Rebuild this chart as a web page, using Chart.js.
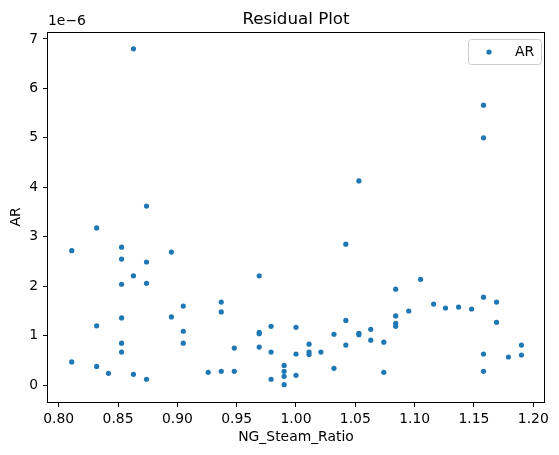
<!DOCTYPE html>
<html>
<head>
  <title>Residual Plot</title>
  <meta charset="utf-8">
  <style>
    html, body { margin: 0; padding: 0; background: #fff; }
    canvas { display: block; }
  </style>
</head>
<body>
  <script src="https://cdn.jsdelivr.net/npm/chart.js"></script>
  <canvas id="residualChart" width="559" height="455"></canvas>
<script>
    // Residuals of AR (in units of 1e-6) against NG_Steam_Ratio
    const ngSteamRatio = [
        0.811, 0.811,
        0.832, 0.832, 0.832,
        0.842,
        0.853, 0.853, 0.853, 0.853, 0.853, 0.853,
        0.863, 0.863, 0.863,
        0.874, 0.874, 0.874, 0.874,
        0.895, 0.895,
        0.905, 0.905, 0.905,
        0.926,
        0.937, 0.937, 0.937,
        0.948, 0.948,
        0.969, 0.969, 0.969, 0.969,
        0.979, 0.979, 0.979,
        0.990, 0.990, 0.990, 0.990,
        1.000, 1.000, 1.000,
        1.011, 1.011, 1.011,
        1.021,
        1.032, 1.032,
        1.042, 1.042, 1.042,
        1.053, 1.053, 1.053,
        1.063, 1.063,
        1.074, 1.074,
        1.084, 1.084, 1.084, 1.084,
        1.095,
        1.105,
        1.116,
        1.126,
        1.137,
        1.148,
        1.158, 1.158, 1.158, 1.158, 1.158,
        1.169, 1.169,
        1.179,
        1.190, 1.190
    ];
    const arResidual = [
        2.72, 0.47,
        3.18, 1.20, 0.38,
        0.24,
        2.79, 2.55, 2.04, 1.36, 0.85, 0.67,
        6.80, 2.21, 0.22,
        3.62, 2.49, 2.06, 0.12,
        2.69, 1.38,
        1.60, 1.09, 0.85,
        0.26,
        1.68, 1.48, 0.28,
        0.75, 0.28,
        2.21, 1.07, 1.04, 0.77,
        1.19, 0.67, 0.12,
        0.40, 0.28, 0.18, 0.01,
        1.17, 0.63, 0.20,
        0.83, 0.67, 0.62,
        0.67,
        1.03, 0.34,
        2.85, 1.31, 0.81,
        4.13, 1.05, 1.02,
        1.13, 0.91,
        0.87, 0.26,
        1.94, 1.40, 1.25, 1.19,
        1.50,
        2.14,
        1.64,
        1.56,
        1.58,
        1.54,
        5.66, 5.00, 1.78, 0.63, 0.28,
        1.68, 1.27,
        0.57,
        0.81, 0.61
    ];
    const xTicks = [0.80, 0.85, 0.90, 0.95, 1.00, 1.05, 1.10, 1.15, 1.20];
    const yTicks = [0, 1, 2, 3, 4, 5, 6, 7];
    const seriesName = 'AR';
    const offsetLabel = '1e\u22126';

    const blue = '#1f77b4';
    const font = 'DejaVu Sans';
    Chart.defaults.font.family = font;
    Chart.defaults.color = '#000';

    // frame, title, offset text and the legend box drawn like matplotlib
    const mplDecor = {
        id: 'mplDecor',
        afterDraw(chart) {
            const ctx = chart.ctx;
            const a = chart.chartArea;
            ctx.save();
            ctx.strokeStyle = '#000';
            ctx.lineWidth = 1;
            ctx.strokeRect(Math.round(a.left) - 0.5, Math.round(a.top) + 0.5,
                Math.round(a.right - a.left) + 1, Math.round(a.bottom - a.top));

            ctx.fillStyle = '#000';
            ctx.textBaseline = 'alphabetic';
            ctx.font = '16.7px "' + font + '"';
            ctx.textAlign = 'center';
            ctx.fillText('Residual Plot', (a.left + a.right) / 2, a.top - 8);

            ctx.font = '13.9px "' + font + '"';
            ctx.textAlign = 'left';
            ctx.fillText(offsetLabel, a.left, a.top - 7);

            // legend
            const lx = a.right - 76, ly = a.top + 7, lw = 73, lh = 25;
            ctx.beginPath();
            ctx.roundRect(lx + 0.5, ly + 0.5, lw, lh, 3);
            ctx.fillStyle = 'rgba(255,255,255,0.8)';
            ctx.fill();
            ctx.strokeStyle = '#cccccc';
            ctx.stroke();
            ctx.beginPath();
            ctx.arc(lx + 21, ly + lh / 2 + 0.5, 2.6, 0, Math.PI * 2);
            ctx.fillStyle = blue;
            ctx.fill();
            ctx.fillStyle = '#000';
            ctx.textBaseline = 'middle';
            ctx.fillText(seriesName, lx + 47, ly + lh / 2 + 1);
            ctx.restore();
        }
    };

    const points = ngSteamRatio.map((x, i) => ({ x: x, y: arResidual[i] }));

    new Chart(document.getElementById('residualChart'), {
        type: 'scatter',
        data: {
            datasets: [{
                label: seriesName,
                data: points,
                backgroundColor: blue,
                borderWidth: 0,
                pointRadius: 2.6,
                pointHoverRadius: 2.6
            }]
        },
        options: {
            responsive: false,
            animation: false,
            layout: { padding: { top: 32, right: 15, left: 0, bottom: 0 } },
            plugins: {
                legend: { display: false },
                title: { display: false },
                tooltip: { enabled: false }
            },
            scales: {
                x: {
                    type: 'linear',
                    min: 0.791,
                    max: 1.209,
                    afterBuildTicks: scale => { scale.ticks = xTicks.map(v => ({ value: v })); },
                    afterFit: scale => { scale.height = 53; },
                    border: { display: false },
                    grid: { drawOnChartArea: false, color: '#000', tickLength: 5 },
                    ticks: {
                        padding: 4,
                        autoSkip: false,
                        maxRotation: 0,
                        font: { size: 13.9 },
                        callback: v => v.toFixed(2)
                    },
                    title: {
                        display: true,
                        text: 'NG_Steam_Ratio',
                        font: { size: 13.9 },
                        padding: { top: 0, bottom: 9 }
                    }
                },
                y: {
                    type: 'linear',
                    min: -0.34,
                    max: 7.14,
                    afterBuildTicks: scale => { scale.ticks = yTicks.map(v => ({ value: v })); },
                    afterFit: scale => { scale.width = 48; },
                    border: { display: false },
                    grid: { drawOnChartArea: false, color: '#000', tickLength: 5 },
                    ticks: {
                        padding: 5,
                        font: { size: 13.9 },
                        callback: v => String(v)
                    },
                    title: {
                        display: true,
                        text: 'AR',
                        font: { size: 13.9 },
                        padding: { top: 8, bottom: 0 }
                    }
                }
            }
        },
        plugins: [mplDecor]
    });
</script>
</body>
</html>
